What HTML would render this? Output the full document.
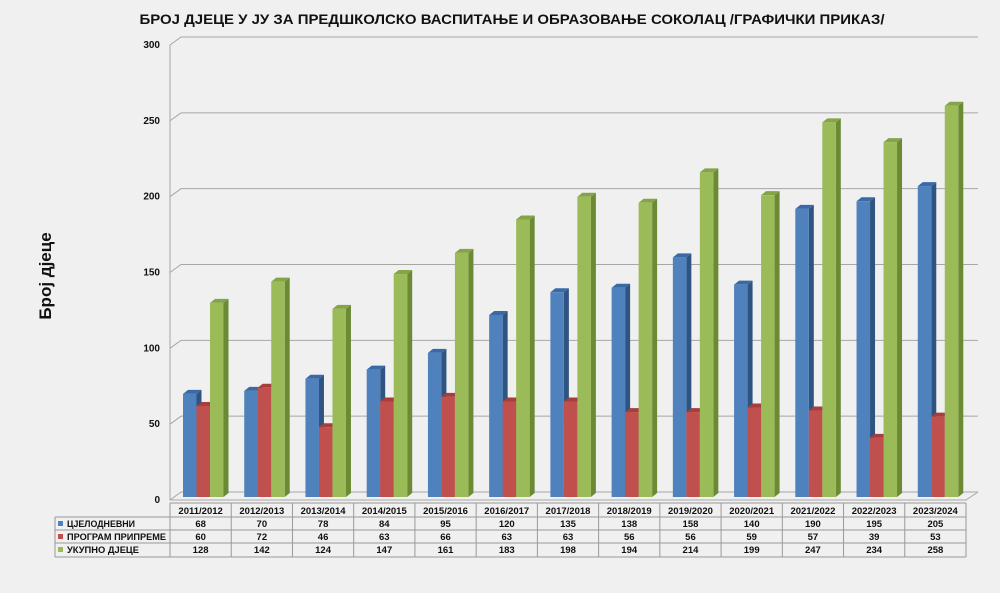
<!DOCTYPE html>
<html><head><meta charset="utf-8"><style>
body{margin:0;background:#f0f0f0;}
svg{display:block;font-family:"Liberation Sans",sans-serif;}
</style></head><body>
<svg width="1000" height="593" viewBox="0 0 1000 593" xmlns="http://www.w3.org/2000/svg">
<rect width="1000" height="593" fill="#f0f0f0"/>
<text x="512" y="24" text-anchor="middle" font-size="14" font-weight="bold" fill="#111" textLength="745" lengthAdjust="spacingAndGlyphs">БРОЈ ДЈЕЦЕ У ЈУ ЗА ПРЕДШКОЛСКО ВАСПИТАЊЕ И ОБРАЗОВАЊЕ СОКОЛАЦ /ГРАФИЧКИ ПРИКАЗ/</text>
<text transform="translate(51,276) rotate(-90)" text-anchor="middle" font-size="17" font-weight="bold" fill="#111">Број дјеце</text>
<g id="grid" stroke="#a6a6a6" stroke-width="1" fill="none"></g>
<g id="yl" font-size="10" font-weight="bold" text-anchor="end" fill="#111"></g>
<g id="bars"></g>
<g id="tbl" font-size="9.5" font-weight="bold" fill="#111"></g>
<script>
var ns="http://www.w3.org/2000/svg";
function el(p,t,a,txt){var e=document.createElementNS(ns,t);for(var k in a)e.setAttribute(k,a[k]);if(txt!=null)e.textContent=txt;document.getElementById(p).appendChild(e);return e;}
var s=455/300;
for(var i=0;i<=6;i++){var v=i*50;var yf=500-v*s,yb=yf-8;
 el("grid","path",{d:"M170 "+yf+" L181 "+yb+" L978 "+yb});
 el("yl","text",{x:160,y:yf+3},v);}
el("grid","path",{d:"M170 45 L170 500 L966 500 L978 492"});
var cats=["2011/2012","2012/2013","2013/2014","2014/2015","2015/2016","2016/2017","2017/2018","2018/2019","2019/2020","2020/2021","2021/2022","2022/2023","2023/2024"];
var d=[[68,70,78,84,95,120,135,138,158,140,190,195,205],[60,72,46,63,66,63,63,56,56,59,57,39,53],[128,142,124,147,161,183,198,194,214,199,247,234,258]];
var fc=["#4f81bd","#c0504d","#9bbb59"],sc=["#2f5482","#8a2f2c","#6a8a34"],tc=["#3a6aa6","#a63e3b","#84a447"];
var cw=(966-170)/13;
for(var c=0;c<13;c++){var x0=170+c*cw;
 for(var k=0;k<3;k++){var x=x0+13+k*13.5,w=13.5,b=497,h=d[k][c]*s,t=b-h;
  el("bars","path",{d:"M"+(x+w)+" "+t+" l5 -4 l0 "+h+" l-5 4z",fill:sc[k]});
  el("bars","path",{d:"M"+x+" "+t+" l5 -4 l"+w+" 0 l-5 4z",fill:tc[k]});
  el("bars","rect",{x:x,y:t,width:w,height:h,fill:fc[k]});
 }}
var rows=[503,517,530,543,557];
for(var r=0;r<5;r++){el("tbl","line",{x1:r==0?170:55,x2:966,y1:rows[r],y2:rows[r],stroke:"#999"});}
el("tbl","line",{x1:55,x2:55,y1:517,y2:557,stroke:"#999"});
for(var c=0;c<=13;c++){var x=170+c*cw;el("tbl","line",{x1:x,x2:x,y1:503,y2:557,stroke:"#999"});}
var names=["ЦЈЕЛОДНЕВНИ","ПРОГРАМ ПРИПРЕМЕ","УКУПНО ДЈЕЦЕ"];
for(var c=0;c<13;c++)el("tbl","text",{x:170+c*cw+cw/2,y:514,"text-anchor":"middle"},cats[c]);
for(var k=0;k<3;k++){var y=rows[k+1];
 el("tbl","rect",{x:58,y:y+4,width:5,height:5,fill:fc[k]});
 el("tbl","text",{x:67,y:y+10,textLength:k==1?99:(k==0?68:72),lengthAdjust:"spacingAndGlyphs"},names[k]);
 for(var c=0;c<13;c++)el("tbl","text",{x:170+c*cw+cw/2,y:y+10,"text-anchor":"middle"},d[k][c]);}
</script>
</svg>
</body></html>
